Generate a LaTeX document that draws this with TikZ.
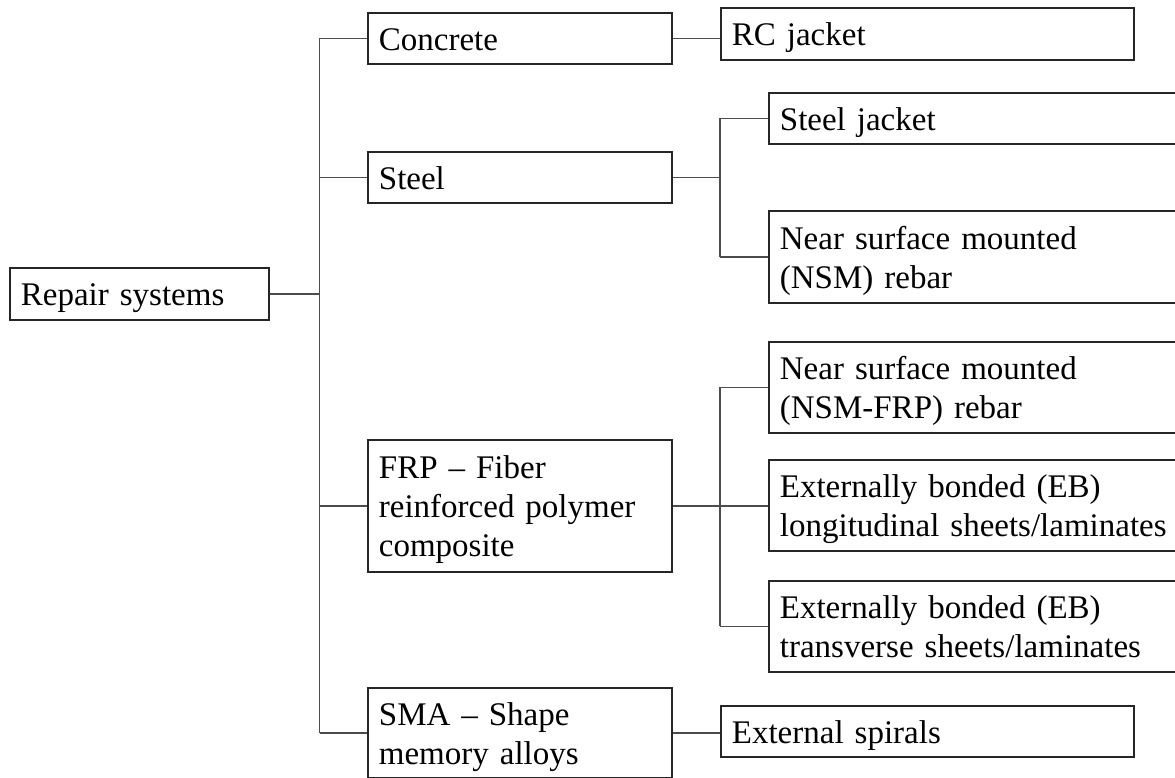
\documentclass[tikz,border=0pt]{standalone}
\usepackage{fontspec}
\setmainfont{Liberation Serif}
\begin{document}
\begin{tikzpicture}[x=1pt,y=-1pt,
  box/.style={draw=black!85, line width=1.8pt, rectangle, anchor=north west,
    inner xsep=11pt, inner ysep=0pt, align=left,
    font=\fontsize{33}{39}\selectfont,
    execute at begin node={\rule{0pt}{31.5pt}},
    execute at end node={\rule[-7.5pt]{0pt}{7.5pt}}},
  conn/.style={draw=black!70, line width=1.3pt}]
\clip (0,0) rectangle (1175,777);
% level 0
\node[box, minimum width=259pt, minimum height=52pt, text width=237pt] (rep) at (9,267) {Repair systems};
% level 1
\node[box, minimum width=304pt, minimum height=51pt, text width=282pt] (con) at (367,12) {Concrete};
\node[box, minimum width=304pt, minimum height=51pt, text width=282pt] (ste) at (367,151) {Steel};
\node[box, minimum width=304pt, minimum height=132pt, text width=282pt] (frp) at (367,439) {FRP – Fiber\\\mbox{reinforced polymer}\\composite};
\node[box, minimum width=304pt, minimum height=90pt, text width=282pt] (sma) at (367,687) {SMA – Shape\\memory alloys};
% level 2
\node[box, minimum width=413pt, minimum height=52pt, text width=391pt] (rc) at (720,7) {RC jacket};
\node[box, minimum width=432pt, minimum height=51pt, text width=410pt] (sj) at (768,92) {Steel jacket};
\node[box, minimum width=432pt, minimum height=92pt, text width=410pt] (nsm) at (768,210) {Near surface mounted\\(NSM) rebar};
\node[box, minimum width=432pt, minimum height=91pt, text width=410pt] (nsmf) at (768,341) {Near surface mounted\\(NSM-FRP) rebar};
\node[box, minimum width=432pt, minimum height=91pt, text width=410pt] (ebl) at (768,459) {Externally bonded (EB)\\\mbox{longitudinal sheets/laminates}};
\node[box, minimum width=432pt, minimum height=91pt, text width=410pt] (ebt) at (768,580) {Externally bonded (EB)\\\mbox{transverse sheets/laminates}};
\node[box, minimum width=413pt, minimum height=51pt, text width=391pt] (es) at (720,705) {External spirals};
% junction columns
\coordinate (t0) at (319.5,0);
\coordinate (t1) at (720,0);
% trunk
\draw[conn] (rep.east) -- (rep.east -| t0);
\draw[conn] (con.west -| t0) -- (sma.west -| t0);
\foreach \n in {con,ste,frp,sma} \draw[conn] (\n.west -| t0) -- (\n.west);
% concrete
\draw[conn] (con.east) -- (con.east -| rc.west);
% steel
\draw[conn] (ste.east) -- (ste.east -| t1);
\draw[conn] (sj.west -| t1) -- (nsm.west -| t1);
\foreach \n in {sj,nsm} \draw[conn] (\n.west -| t1) -- (\n.west);
% frp
\draw[conn] (frp.east) -- (frp.east -| ebl.west);
\draw[conn] (nsmf.west -| t1) -- (ebt.west -| t1);
\foreach \n in {nsmf,ebt} \draw[conn] (\n.west -| t1) -- (\n.west);
% sma
\draw[conn] (sma.east) -- (sma.east -| es.west);
\end{tikzpicture}
\end{document}
